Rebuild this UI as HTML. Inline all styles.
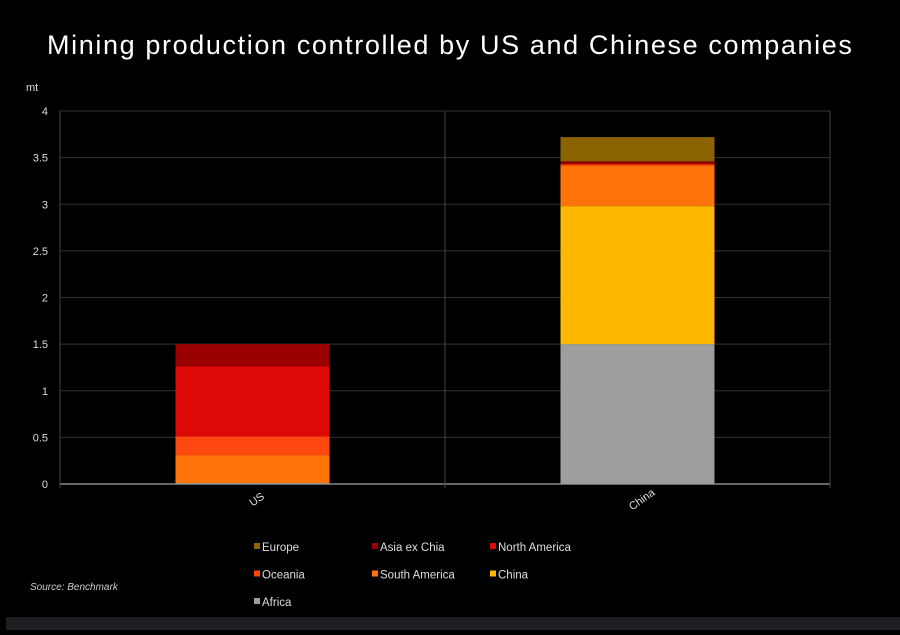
<!DOCTYPE html>
<html><head><meta charset="utf-8"><style>
body{margin:0;background:#000;width:900px;height:630px;overflow:hidden;font-family:"Liberation Sans",sans-serif}
</style></head><body>
<svg width="900" height="630" id="c">
<rect x="0" y="0" width="900" height="630" fill="#000"/>
<rect x="6" y="617" width="894" height="13" fill="#1d1f22"/>
<text x="450" y="54" text-anchor="middle" fill="#fff" font-size="27" letter-spacing="1.1" textLength="806" lengthAdjust="spacing">Mining production controlled by US and Chinese companies</text>
<text x="26" y="91" fill="#ddd" font-size="11">mt</text>
<text x="30" y="590" fill="#ccc" font-size="10" font-style="italic">Source: Benchmark</text>
<g id="grid"></g><g id="bars"></g><g id="axes"></g><g id="legend"></g>
</svg>
<script>
const categories=["US","China"];
const seriesNames=["Africa","China","South America","Oceania","North America","Asia ex Chia","Europe"];
const seriesColors=["#9e9e9e","#ffb800","#ff7408","#ff4810","#de0a0a","#9a0000","#8b6400"];
const usValues=[0.01,0.0,0.30,0.20,0.75,0.24,0.0];
const chinaValues=[1.50,1.48,0.43,0.02,0.0,0.03,0.26];
const yTicks=[0,0.5,1,1.5,2,2.5,3,3.5,4];
const yTickLabels=["0","0.5","1","1.5","2","2.5","3","3.5","4"];
const legendOrder=["Europe","Asia ex Chia","North America","Oceania","South America","China","Africa"];
const NS="http://www.w3.org/2000/svg";
const L=60,R=830,B=484,T=111;
const y=v=>B-(v/4)*(B-T);
const slotW=(R-L)/categories.length;
const x=i=>L+slotW*i+slotW/2;
const barW=154;
function mk(tag,attrs,parent){const e=document.createElementNS(NS,tag);for(const k in attrs)e.setAttribute(k,attrs[k]);parent.appendChild(e);return e;}
const g=document.getElementById('grid'),bg=document.getElementById('bars'),ax=document.getElementById('axes'),lg=document.getElementById('legend');
yTicks.forEach((t,i)=>{
 const ln=mk('line',{x1:L,x2:R,y1:y(t),y2:y(t),stroke:t===0?'#888':'#333','stroke-width':t===0?1.5:1},g);
 
 
 const tx=mk('text',{x:48,y:y(t)+4,'text-anchor':'end',fill:'#ddd','font-size':11},ax);
 tx.textContent=yTickLabels[i];
 
 
});
[L,L+slotW,R].forEach(xx=>{
 const v=mk('line',{x1:xx,x2:xx,y1:T,y2:B+4,stroke:'#444','stroke-width':1},g);
 
 
});
[usValues,chinaValues].forEach((vals,ci)=>{
 let acc=0;
 vals.forEach((v,si)=>{
  if(v<=0)return;
  const r=mk('rect',{x:x(ci)-barW/2,y:y(acc+v),width:barW,height:y(acc)-y(acc+v),fill:seriesColors[si]},bg);
  
  
  acc+=v;
 });
 const lab=mk('text',{x:x(ci)+5,y:B+22,'text-anchor':'middle',fill:'#ddd','font-size':11,transform:`rotate(-35 ${x(ci)} ${B+18})`},ax);
 lab.textContent=categories[ci];
 
 
});
legendOrder.forEach((n,i)=>{
 const col=i%3,row=Math.floor(i/3);
 const lx=254+col*118,ly=551+row*27.5;
 const si=seriesNames.indexOf(n);
 const item=mk('g',{},lg);
 
 
 mk('rect',{x:lx,y:ly-8,width:6,height:6,fill:seriesColors[si]},item);
 const t=mk('text',{x:lx+8,y:ly,fill:'#ddd','font-size':11.5},item);
 t.textContent=n;
});
</script>
</body></html>
